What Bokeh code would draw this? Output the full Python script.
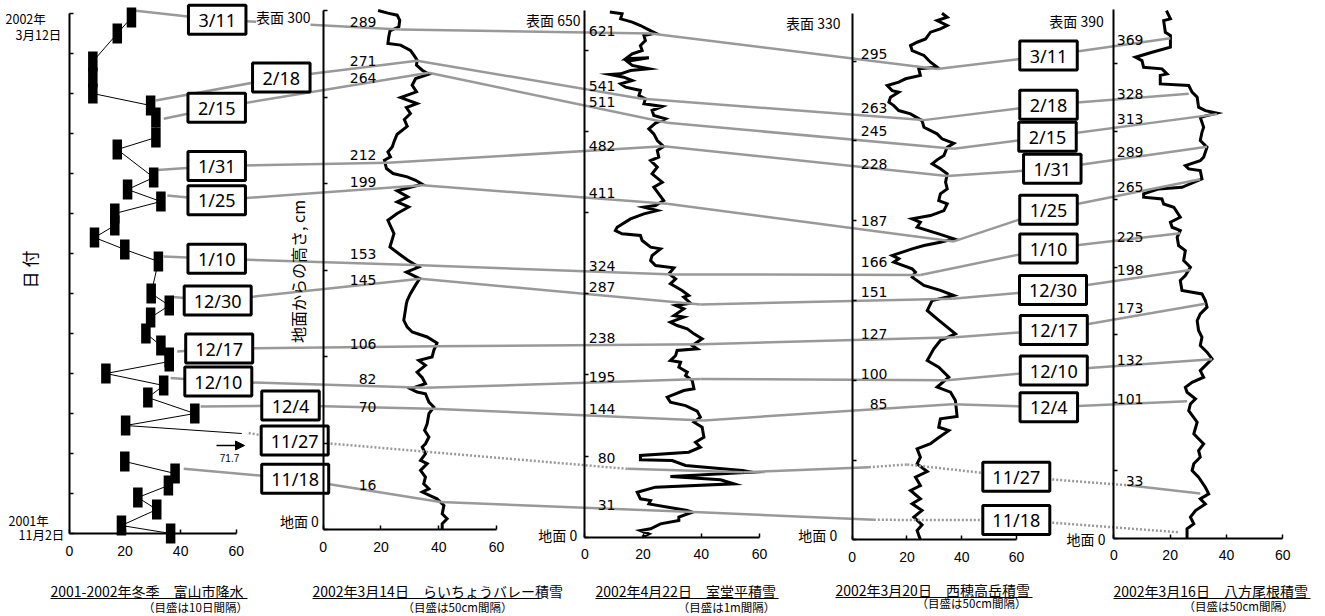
import numpy as np
import pandas as pd
from bokeh.plotting import figure
from bokeh.models import Range1d, LinearAxis, FixedTicker, Label, Arrow, NormalHead
from bokeh.core.properties import value
from bokeh.embed import file_html
from bokeh.resources import INLINE

JP = "Noto Sans CJK JP"

# ======================= DATA =======================
# Panel 1: Toyama precipitation (x: mm, y: date); None = no value (line break)
precip_dates = ["2001-11-02", "2001-11-04", "2001-11-08", "2001-11-11", "2001-11-14", "2001-11-17",
                "2001-11-20", "2001-11-23", "2001-11-27", "2001-11-29", "2001-12-02", "2001-12-06",
                "2001-12-09", "2001-12-12", "2001-12-15", "2001-12-16", "2001-12-19", "2001-12-22",
                "2001-12-26", "2001-12-29", "2002-01-01", "2002-01-09", "2002-01-12", "2002-01-15",
                "2002-01-18", "2002-01-21", "2002-01-24", "2002-01-27", "2002-01-30", "2002-02-06",
                "2002-02-09", "2002-02-14", "2002-02-17", "2002-02-20", "2002-02-24", "2002-02-28",
                "2002-03-07", "2002-03-11"]
precip_mm = [36.4, 18.7, 31.4, 24.6, 35.6, 38.0, 19.9, None, 71.7, 20.2, 45.1, 28.2,
             33.9, 13.1, 35.9, 35.9, 32.9, 27.5, 29.2, 35.9, 29.4, 32.0, 19.9, 9.0,
             16.3, 16.3, 32.9, 20.9, 30.3, 17.2, 31.1, 31.1, 29.2, 8.4, 8.4, 8.4, 17.2, 22.3]
precip_start = "2001-11-02"
precip_days_total = 130          # 2002-03-12

# Snow profiles: (height above ground cm, value)
raicho = [(300, 19), (298.5, 22.4), (297.3, 25.6), (294.4, 26.5), (290.6, 26.2), (288.2, 23.1), (284.8, 22.7),
          (280.9, 22.4), (280, 26.8), (277, 30.2), (274.2, 31.4), (271.3, 32.5), (268.4, 32.3), (265.5, 34.3),
          (263.2, 36.6), (260.7, 32), (256.8, 30.8), (253, 32.3), (249.7, 26.8), (246.2, 32.5), (243.9, 28.8),
          (240.5, 30.2), (237, 28.1), (233.1, 29.1), (228.5, 25.6), (225, 24.7), (221.2, 23.9), (218.3, 22.4),
          (215.4, 23.3), (213.5, 21.2), (208.7, 21.9), (205.8, 24.2), (203.9, 29.1), (201.9, 32), (199.6, 34.3),
          (195.8, 25.6), (192.3, 29.3), (189.4, 25.6), (186.5, 29.6), (182.7, 25.6), (178.8, 22.4), (171.1, 24.5),
          (163.4, 23.1), (159.5, 26.2), (155.7, 29.3), (151.8, 33.1), (148.9, 28.8), (145.1, 33.4), (141.2, 31.9),
          (136.4, 30.2), (132.6, 29.1), (130.6, 28.8), (121, 27.9), (117.1, 29.1), (114.3, 30.8), (111.4, 36),
          (107.9, 39.4), (103.7, 38.3), (99.8, 37.7), (97.9, 33.1), (95, 35.4), (91.1, 32.5), (87.9, 34.3),
          (84.4, 35.4), (81.5, 30.2), (79.6, 32.5), (78.6, 35.4), (73.8, 36.6), (70.9, 38.3), (67.1, 36.6),
          (61.3, 36), (57.4, 35.1), (53.6, 36.6), (49.7, 35.4), (47.8, 34.3), (43.9, 35.4), (40.1, 33.7),
          (38.2, 36), (34.3, 33.7), (30.4, 35.4), (26.6, 34.8), (23.7, 36.6), (21.8, 34.3), (17.9, 39.4),
          (14.1, 41.8), (9.2, 41.2), (6.4, 42.9), (3.5, 41.2), (0, 41.2)]
murodo = [(647.4, 8.6), (645.3, 12.8), (639.1, 12.3), (635, 16.3), (630.9, 19.1), (625.6, 22), (621.5, 24.3),
          (618.6, 20.3), (612.4, 20.8), (606.2, 19.1), (600.1, 19.7), (596, 16.3), (589.8, 14), (591, 22),
          (586.9, 14.5), (581.6, 16.3), (577.5, 22), (575.4, 15.7), (571.3, 12.3), (570.5, 8.8), (567.2, 13.4),
          (563.1, 16.3), (559, 12.3), (554.9, 14), (550.8, 19.1), (544.6, 18.6), (540.5, 20.8), (534.3, 20.3),
          (531, 26.6), (526.1, 23.1), (519.9, 23.7), (515.8, 27.7), (510.5, 24.3), (503.5, 22), (497.3, 23.7),
          (489.1, 24.9), (481.7, 27.1), (476.8, 24.9), (468.6, 25.4), (464.4, 22.6), (456.2, 24.9), (448, 23.1),
          (437.7, 26.6), (431.6, 23.7), (423.3, 25.4), (415.1, 27.1), (409, 24.3), (406.9, 20.3), (402.8, 24.9),
          (398.7, 20.3), (392.5, 15.7), (382.2, 11.1), (378.1, 10.5), (374, 12.8), (372, 19.1), (365.8, 19.7),
          (357.6, 22.6), (355.5, 26), (347.3, 23.1), (341.1, 22.6), (335, 24.3), (332.1, 30.6), (324.7, 28.9),
          (318.5, 31.2), (312.4, 29.4), (304.2, 33.4), (298, 35.7), (295.9, 34), (288.5, 36.3), (285.7, 31.2),
          (281.5, 34), (273.3, 30.6), (271.3, 34), (265.1, 29.4), (261, 31.7), (256.9, 35.2), (250.7, 37.5),
          (244.6, 40.3), (236.3, 36.9), (232.2, 38.6), (230.2, 31.7), (224, 31.2), (217.8, 29.4), (215.8, 32.9),
          (209.6, 32.3), (203.5, 35.2), (199.3, 34.6), (193.2, 36.9), (182.9, 37.5), (180.8, 34), (172.6, 28.3),
          (166.5, 29.4), (162.3, 34.6), (155.4, 38.6), (148, 39.7), (141.8, 37.5), (135.6, 40.3), (123.3, 40.9),
          (117.1, 38), (111, 39.7), (104.8, 35.7), (100.7, 19.1), (95.4, 19.1), (94.5, 30), (88.4, 34.6),
          (84.3, 47.2), (82.2, 54.1), (80.1, 57.5), (74.8, 29.4), (70.7, 46.6), (65.8, 51.2), (61.7, 24.3),
          (55.5, 18), (47.3, 19.1), (45.2, 22.6), (41.1, 22), (32.9, 35.2), (30.8, 36.9), (24.7, 32.3),
          (20.6, 32.3), (16.4, 26), (10.3, 22.6), (8.2, 19.1), (4.1, 22), (0, 19.7)]
nishiho = [(330, 32.8), (327.5, 34.7), (325.4, 31), (322.3, 34.7), (320.2, 32.2), (318.1, 28.6), (313.9, 26.8),
           (311.8, 23.7), (309.7, 21.3), (306.6, 21.9), (303.5, 26.2), (299.3, 28.6), (296.2, 31), (295.2, 24.3),
           (291, 24.9), (288.9, 19.5), (286.8, 17), (284.7, 12.8), (281.5, 14.6), (280.5, 17), (277.4, 14),
           (274.2, 13.4), (272.1, 15.2), (269, 17), (266.9, 21.3), (262.7, 25.5), (258.5, 26.2), (254.4, 31),
           (251.3, 32.8), (248.5, 37.1), (246, 34.7), (240.8, 33.5), (238.1, 31), (235.6, 29.2), (232.5, 32.2),
           (229.3, 34.7), (224.1, 34.1), (219.9, 34.7), (216.8, 32.2), (212.6, 31.6), (210.5, 34.7), (206.3, 33.5),
           (203.2, 28.6), (201.1, 21.9), (199, 24.9), (195.9, 23.7), (191.7, 31.6), (188.6, 37.1), (186.5, 32.2),
           (184.4, 26.2), (182.3, 21.9), (178.2, 14.6), (176.1, 17), (174, 15.2), (169.8, 21.9), (167.7, 23.1),
           (164.6, 21.9), (159.4, 26.2), (156.3, 32.2), (153.1, 37.1), (150, 29.2), (143.7, 27.4), (138.5, 31),
           (129.1, 37.7), (124.9, 32.2), (119.7, 29.8), (112.4, 27.4), (108.2, 31.6), (101.9, 35.3), (95.7, 31),
           (92.5, 35.9), (87.3, 37.7), (77.3, 38.3), (75.8, 32.2), (70.6, 31.6), (68.5, 35.3), (63.3, 31),
           (60.2, 28.6), (57, 23.7), (51.8, 24.9), (47.6, 23.7), (42.8, 27.4), (39.3, 23.1), (34, 24.9),
           (30.9, 21.3), (25.7, 24.9), (22.6, 21.9), (18.4, 25.5), (14.2, 22.5), (9.4, 25.5), (5.8, 23.7), (0, 24.9)]
happo = [(389.4, 18.7), (383.3, 20.1), (382, 17.7), (373.4, 18.3), (371, 20.1), (362.4, 20.1), (358.7, 13.6),
         (355, 7.7), (352.5, 10), (347.6, 10.6), (346.4, 17.1), (342.7, 18.9), (341.6, 16.5), (335.3, 16.5),
         (334.1, 26.6), (329.2, 27.8), (325.5, 29.6), (318.1, 30.1), (315.6, 32.5), (313.7, 36.6), (310.7, 30.7),
         (303.3, 31.9), (299.6, 31.3), (293.5, 30.7), (288.6, 33.1), (281.2, 31.9), (278.7, 30.7), (275, 25.4),
         (272.6, 26.6), (271.3, 30.7), (265.2, 31.3), (259, 24.2), (257.8, 16), (254.1, 10.6), (251.7, 10.6),
         (250.4, 17.1), (246.7, 17.7), (244.3, 21.3), (236.9, 23.6), (233.2, 20.1), (229.5, 20.7), (227.1, 23.6),
         (222.1, 22.5), (216, 23), (212.3, 25.4), (204.9, 24.8), (200, 27.2), (193.8, 25.4), (190.2, 23.6),
         (182.8, 24.2), (180.3, 31.3), (175.4, 32.5), (170.5, 33.1), (165.6, 30.7), (160.6, 29.6), (153.3, 30.1),
         (148.3, 31.3), (142.2, 30.7), (137.3, 33.1), (132.3, 34.9), (128.7, 33.1), (123.7, 30.7), (118.8, 31.9),
         (115.1, 27.8), (111.4, 25.4), (107.7, 26), (102.8, 29), (99.1, 27.2), (94.2, 26.6), (85.6, 29.6),
         (77, 28.4), (72.1, 30.7), (69.6, 31.9), (64.7, 30.1), (59.8, 30.7), (54.9, 28.4), (49.9, 27.8),
         (45, 30.1), (37.6, 32.5), (32.7, 33.7), (29, 30.7), (25.3, 32.5), (20.4, 29), (15.5, 27.2),
         (10.6, 28.4), (6.9, 26), (0, 26)]
surface_cm = {"p2": 300, "p3": 650, "p4": 330, "p5": 390}

# Layers followed between sites
layer_dates = ["3/11", "2/18", "2/15", "1/31", "1/25", "1/10", "12/30", "12/17", "12/10", "12/4", "11/27", "11/18"]
layer_p1_mm = [23.1, 31.0, 33.9, 31.6, 35.2, 33.9, 37.0, 38.8, 36.4, 47.2, 64.5, 41.1]
layer_p1_day = [130.75, 108.25, 103.7, 90.9, 84.5, 69.25, 59.1, 45.5, 38.9, 31.75, 25.1, 16.2]
raicho_layer_h = [289, 271, 264, 212, 199, 153, 145, 106, 82, 70, None, 16]
raicho_layer_v = [26.7, 32.5, 36.5, 22.5, 34.3, 31.4, 33.7, 39.4, 35.4, 37.7, None, 40.6]
murodo_layer_h = [621, 541, 511, 482, 411, 324, 287, 238, 195, 144, 80, 31]
murodo_layer_v = [22.6, 19.0, 28.3, 27.1, 28.3, 30.6, 39.8, 40.3, 39.8, 40.9, 54.6, 37.5]
nishiho_layer_h = [295, 263, 245, 228, 187, 166, 151, 127, 100, 85, None, None]
nishiho_layer_v = [31.0, 26.1, 37.1, 34.7, 37.1, 24.9, 36.5, 37.7, 34.7, 36.5, None, None]
happo_layer_h = [369, 328, 313, 289, 265, 225, 198, 173, 132, 101, 33, None]
happo_layer_v = [20.1, 26.6, 36.6, 33.1, 30.7, 23.6, 27.2, 32.5, 34.9, 26.0, 30.7, None]
# uncertain stretches (dotted) of the two oldest layers
special_paths = {
    "11/27": [("p1", 64.5, 25.1, "dot"), ("b1", None, None, "dot"), ("p3", 14.6, 84.3, "solid"),
              ("p3", 54.6, 80, "solid"), ("p4", 6.1, 45.5, "dot"), ("p4", 20.1, 47.2, "dot"),
              ("b2", None, None, "dot"), ("p5", 5.9, 38.9, "solid"), ("p5", 30.7, 33, None)],
    "11/18": [("p1", 41.1, 16.2, "solid"), ("b1", None, None, "solid"), ("p2", 40.6, 16, "solid"),
              ("p3", 37.5, 31, "solid"), ("p4", 7.9, 12.5, "dot"), ("b2", None, None, "dot"),
              ("p5", 23.0, 4.4, None)],
}

titles = ["2001-2002年冬季　富山市降水", "2002年3月14日　らいちょうバレー積雪", "2002年4月22日　室堂平積雪",
          "2002年3月20日　西穂高岳積雪", "2002年3月16日　八方尾根積雪"]
subtitles = ["（目盛は10日間隔）", "（目盛は50cm間隔）", "（目盛は1m間隔）", "（目盛は50cm間隔）", "（目盛は50cm間隔）"]
x_ticks = [0, 20, 40, 60]

# ======================= LAYOUT =======================
W, H = 1325, 616
OX, OY = 0, 0
panels = {
    "p1": dict(left=69.0, right=235.7, bottom=533.0, top=13.0, xmax=60, ymax=precip_days_total, ystep=10),
    "p2": dict(left=322.7, right=496.0, bottom=529.3, top=10.0, xmax=60, ymax=surface_cm["p2"], ystep=50),
    "p3": dict(left=584.3, right=759.0, bottom=536.7, top=9.5, xmax=60, ymax=surface_cm["p3"], ystep=100),
    "p4": dict(left=851.7, right=1016.0, bottom=539.3, top=12.7, xmax=60, ymax=surface_cm["p4"], ystep=50),
    "p5": dict(left=1113.3, right=1282.3, bottom=537.7, top=9.3, xmax=60, ymax=surface_cm["p5"], ystep=50),
}

def kx(pn):
    P = panels[pn]; return (P["right"] - P["left"]) / P["xmax"]

def ky(pn):
    P = panels[pn]; return (P["bottom"] - P["top"]) / P["ymax"]

def sx(pn, v):
    return panels[pn]["left"] + v * kx(pn)

def sy(pn, h):
    return panels[pn]["bottom"] - h * ky(pn)

p = figure(width=W, height=H, x_range=Range1d(OX, OX + W), y_range=Range1d(OY + H, OY),
           output_backend="svg", toolbar_location=None, x_axis_location=None, y_axis_location=None,
           min_border=0, outline_line_color=None, background_fill_color="white", border_fill_color="white")
p.xgrid.grid_line_color = None
p.ygrid.grid_line_color = None

for pn, P in panels.items():
    p.extra_x_ranges[pn] = Range1d(start=(OX - P["left"]) / kx(pn), end=(OX + W - P["left"]) / kx(pn))
    p.extra_y_ranges[pn] = Range1d(start=(P["bottom"] - (OY + H)) / ky(pn), end=(P["bottom"] - OY) / ky(pn))

# axes
for pn, P in panels.items():
    xa = LinearAxis(x_range_name=pn, y_range_name=pn, fixed_location=0, bounds=(0, P["xmax"]),
                    ticker=FixedTicker(ticks=x_ticks), major_tick_in=4, major_tick_out=0,
                    minor_tick_line_color=None, axis_line_width=2, axis_line_color="black",
                    major_tick_line_width=1.5, major_label_text_font="Liberation Sans",
                    major_label_text_font_size="14px", major_label_text_color="black",
                    major_label_standoff=12)
    p.add_layout(xa, "below")
    ya = LinearAxis(x_range_name=pn, y_range_name=pn, fixed_location=0, bounds=(0, P["ymax"]),
                    ticker=FixedTicker(ticks=list(range(0, P["ymax"] + 1, P["ystep"]))),
                    major_tick_in=4, major_tick_out=0, minor_tick_line_color=None,
                    axis_line_width=2, axis_line_color="black", major_tick_line_width=1.5,
                    major_label_text_color=None)
    p.add_layout(ya, "left")

# profiles
for pn, prof in [("p2", raicho), ("p3", murodo), ("p4", nishiho), ("p5", happo)]:
    hs = [a for a, b in prof]
    vs = [b for a, b in prof]
    p.line(vs, hs, x_range_name=pn, y_range_name=pn, line_color="black", line_width=3, line_join="miter")

# connectors
box1_xy = [(216.7, 19.2), (280.8, 77), (216.2, 107.2), (216.2, 165.5), (216.2, 199.7), (216.2, 258.3),
           (217.2, 300), (218.7, 348), (217.8, 381), (290, 405), (294.2, 440), (294.7, 478.3)]
box2_xy = [(1048, 55), (1048, 104.2), (1047, 136.3), (1051.8, 168.3), (1048, 209.3), (1048, 248),
           (1052.5, 289.5), (1053.3, 329.5), (1053.3, 370), (1048.3, 406.7), (1015.8, 476.2), (1015.8, 519.5)]

GRAY = "#999999"
for i, d in enumerate(layer_dates):
    if d in special_paths:
        path = special_paths[d]
    else:
        path = [("p1", layer_p1_mm[i], layer_p1_day[i], "solid"), ("b1", None, None, "solid"),
                ("p2", raicho_layer_v[i], raicho_layer_h[i], "solid"),
                ("p3", murodo_layer_v[i], murodo_layer_h[i], "solid"),
                ("p4", nishiho_layer_v[i], nishiho_layer_h[i], "solid"), ("b2", None, None, "solid"),
                ("p5", happo_layer_v[i], happo_layer_h[i], None)]
    pts = []
    for (pn, v, h, st) in path:
        if pn == "b1":
            pts.append((box1_xy[i][0], box1_xy[i][1], st))
        elif pn == "b2":
            pts.append((box2_xy[i][0], box2_xy[i][1], st))
        else:
            pts.append((sx(pn, v), sy(pn, h), st))
    for k in range(len(pts) - 1):
        x0, y0, st = pts[k]
        x1, y1, _ = pts[k + 1]
        p.line([x0, x1], [y0, y1], line_color=GRAY, line_width=2.5,
               line_dash="solid" if st == "solid" else "2 2")

# precipitation series
days = (pd.to_datetime(precip_dates) - pd.Timestamp(precip_start)).days.values.astype(float)
mm = np.array([np.nan if v is None else v for v in precip_mm], dtype=float)
p.line(np.minimum(mm, 62.0), days, x_range_name="p1", y_range_name="p1", line_color="black", line_width=1)
shown = mm <= panels["p1"]["xmax"]
p.rect(mm[shown], days[shown], width=9.5, height=20, width_units="screen", height_units="screen",
       fill_color="black", line_color=None, x_range_name="p1", y_range_name="p1")
off = mm[mm > panels["p1"]["xmax"]][0]
p.add_layout(Arrow(end=NormalHead(size=9, fill_color="black", line_color="black"),
                   x_start=216, y_start=445, x_end=244, y_end=445, line_width=1.5, line_color="black"))
p.text([229], [457], text=[f"{off}"], text_font=value("Liberation Sans"), text_font_size="10px",
       text_align="center", text_baseline="middle", text_color="black")

# date boxes
def bw(t):
    return 57.5 if len(t) <= 4 else 67.0

for xy in (box1_xy, box2_xy):
    bx = [a for a, b in xy]
    by = [b for a, b in xy]
    p.rect(bx, by, width=[bw(t) for t in layer_dates], height=29, fill_color="white",
           line_color="black", line_width=3)
    p.text(bx, by, text=layer_dates, text_font=value("Noto Sans"), text_font_size="18px",
           text_align="center", text_baseline="middle", text_color="black")

# height labels next to each site's axis
lab_right = {"p2": 376, "p3": 615, "p4": 887, "p5": 1143}
lab_y = {
    "p2": [21.7, 60, 77.3, 154, 181.7, 253.3, 279, 343.3, 378.3, 406, None, 484.3],
    "p3": [30.7, 85, 101.7, 145, 192.7, 265, 286, 337.7, 376, 408.3, 457.7, 504.3],
    "p4": [53.3, 107.3, 130, 163.3, 220.7, 261.7, 291.7, 333.3, 373.3, 403.3, None, None],
    "p5": [39.3, 93.3, 118.3, 151.7, 186, 236, 269.3, 307.3, 359.3, 398.3, 480, None],
}
for pn, hl in [("p2", raicho_layer_h), ("p3", murodo_layer_h), ("p4", nishiho_layer_h), ("p5", happo_layer_h)]:
    xs, ys, ts = [], [], []
    for h, yy in zip(hl, lab_y[pn]):
        if h is None or yy is None:
            continue
        xs.append(lab_right[pn]); ys.append(yy); ts.append(str(h))
    p.text(xs, ys, text=ts, text_font=value("DejaVu Sans"), text_font_size="14px",
           text_align="right", text_baseline="middle", text_color="black")

# surface / ground labels
surf_pos = {"p2": (310, 16.7), "p3": (580, 19.3), "p4": (840, 22.7), "p5": (1103.3, 20)}
ground_pos = {"p2": (318.3, 520), "p3": (576.7, 534.3), "p4": (836.7, 534.3), "p5": (1105, 538.3)}
for pn in ["p2", "p3", "p4", "p5"]:
    p.add_layout(Label(x=surf_pos[pn][0], y=surf_pos[pn][1], text=f"表面 {surface_cm[pn]}",
                       text_align="right", text_baseline="middle", text_font=JP, text_font_size="14px",
                       text_color="black", background_fill_color="white"))
    p.add_layout(Label(x=ground_pos[pn][0], y=ground_pos[pn][1], text="地面 0",
                       text_align="right", text_baseline="middle", text_font=JP, text_font_size="14px",
                       text_color="black", background_fill_color="white"))

# date axis end labels
end_date = pd.Timestamp(precip_start) + pd.Timedelta(days=precip_days_total)
st_date = pd.Timestamp(precip_start)
p.text([5, 15, 8, 18], [18.3, 34.3, 520, 534],
       text=[f"{end_date.year}年", f"{end_date.month}月{end_date.day}日", f"{st_date.year}年", f"{st_date.month}月{st_date.day}日"],
       text_font=value(JP), text_font_size="12.5px", text_align="left", text_baseline="middle", text_color="black")

# axis titles
p.text([29], [269], text=["日 付"], angle=np.pi / 2, text_font=value(JP), text_font_size="17px",
       text_align="center", text_baseline="middle", text_color="black")
p.text([297], [271], text=["地面からの高さ, cm"], angle=np.pi / 2, text_font=value(JP), text_font_size="16px",
       text_align="center", text_baseline="middle", text_color="black")

# panel titles with underline
title_left = [50, 312, 595, 835, 1113]
title_right = [247, 540, 778, 1032, 1310]
title_y = [590, 590, 590, 589, 590]
sub_x = [195, 457, 726, 971, 1238]
sub_y = [606, 606, 606, 602, 605]
p.text(title_left, title_y, text=titles, text_font=value(JP), text_font_size="14px",
       text_align="left", text_baseline="middle", text_color="black")
p.segment(x0=title_left, y0=[y + 8 for y in title_y], x1=title_right, y1=[y + 8 for y in title_y],
          line_color="black", line_width=1)
p.text(sub_x, sub_y, text=subtitles, text_font=value(JP), text_font_size="11.5px",
       text_align="center", text_baseline="middle", text_color="black")

open("out.html", "w").write(file_html(p, INLINE))
